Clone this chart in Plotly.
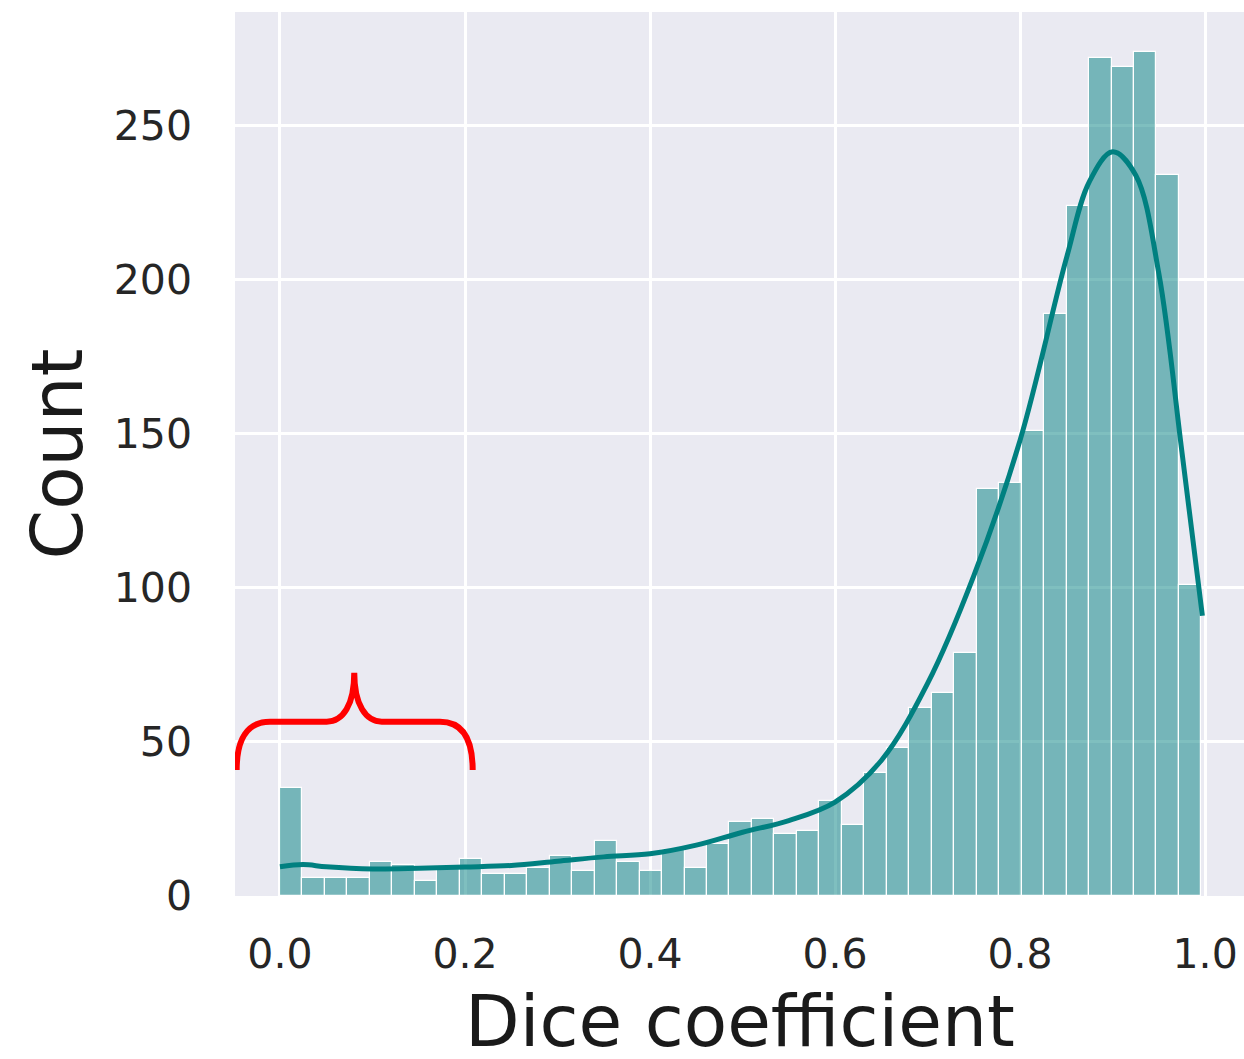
import numpy as np
import plotly.graph_objects as go

# ---- data ----
bin_start = 0.0
bin_end = 0.996
counts = [35, 6, 6, 6, 11, 10, 5, 9, 12, 7, 7, 9, 13, 8, 18, 11, 8, 15, 9, 17,
          24, 25, 20, 21, 31, 23, 40, 48, 61, 66, 79, 132, 134, 151, 189, 224,
          272, 269, 274, 234, 101]

kde_x = [0.0, 0.025, 0.05, 0.1, 0.15, 0.2, 0.25, 0.3, 0.35, 0.4,
         0.45, 0.5, 0.55, 0.6, 0.65, 0.7, 0.75, 0.8, 0.85, 0.875,
         0.9, 0.925, 0.95, 0.975, 0.997]
kde_y = [9.5, 10.2, 9.5, 8.8, 9.0, 9.4, 9.9, 11.3, 12.7, 13.7,
         16.5, 20.7, 24.5, 30.5, 44, 69, 104, 148, 207, 232,
         241.6, 234, 202, 144, 91]

x_ticks = [0.0, 0.2, 0.4, 0.6, 0.8, 1.0]
y_ticks = [0, 50, 100, 150, 200, 250]

x_title = "Dice coefficient"
y_title = "Count"

edges = np.linspace(bin_start, bin_end, len(counts) + 1)
centers = (edges[:-1] + edges[1:]) / 2
width = edges[1] - edges[0]

teal = "#008080"
font = "DejaVu Sans"

fig = go.Figure()
fig.add_trace(go.Bar(
    x=centers, y=counts, width=width,
    marker=dict(color="rgba(0,128,128,0.5)", line=dict(color="white", width=1.2)),
    showlegend=False,
))
fig.add_trace(go.Scatter(
    x=kde_x, y=kde_y, mode="lines",
    line=dict(color=teal, width=5, shape="spline", smoothing=1.0),
    showlegend=False,
))

# red curly brace annotation
brace = ("M -0.0468,40.9 C -0.0468,51 -0.035,56.6 -0.0108,56.6 "
         "L 0.0505,56.6 C 0.068,56.6 0.0803,62 0.0803,72.5 "
         "C 0.0803,62 0.093,56.6 0.110,56.6 L 0.173,56.6 "
         "C 0.197,56.6 0.2083,51 0.2083,40.9")
fig.add_shape(type="path", path=brace, xref="x", yref="y",
              line=dict(color="#FF0000", width=6))

# x axis title as annotation (axis title is constrained inside the margin)
fig.add_annotation(text=x_title, xref="paper", yref="paper", x=0.5, y=-0.1425,
                   xanchor="center", yanchor="middle", showarrow=False,
                   font=dict(family=font, size=71, color="#1a1a1a"))

fig.update_layout(
    width=1244, height=1059,
    margin=dict(l=235, r=0, t=12, b=163),
    paper_bgcolor="white",
    plot_bgcolor="#EAEAF2",
    bargap=0,
    font=dict(family=font, color="#262626"),
    xaxis=dict(
        range=[-0.0486, 1.042], automargin=False,
        tickvals=x_ticks, ticktext=[f"{v:.1f}" for v in x_ticks],
        tickfont=dict(size=41, color="#262626"),
        showgrid=True, gridcolor="white", gridwidth=2.5,
        zeroline=False, showline=False, ticks="",
        ticklabelstandoff=30,
    ),
    yaxis=dict(
        range=[0, 287], automargin=False,
        tickvals=y_ticks,
        tickfont=dict(size=41, color="#262626"),
        showgrid=True, gridcolor="white", gridwidth=2.5,
        zeroline=False, showline=False, ticks="",
        ticklabelstandoff=42,
        title=dict(text=y_title, font=dict(size=71, color="#1a1a1a"), standoff=7),
    ),
)

fig.write_html("out.html", config={"displayModeBar": False},
               post_script="document.body.style.margin='0px';document.body.style.overflow='hidden';")
